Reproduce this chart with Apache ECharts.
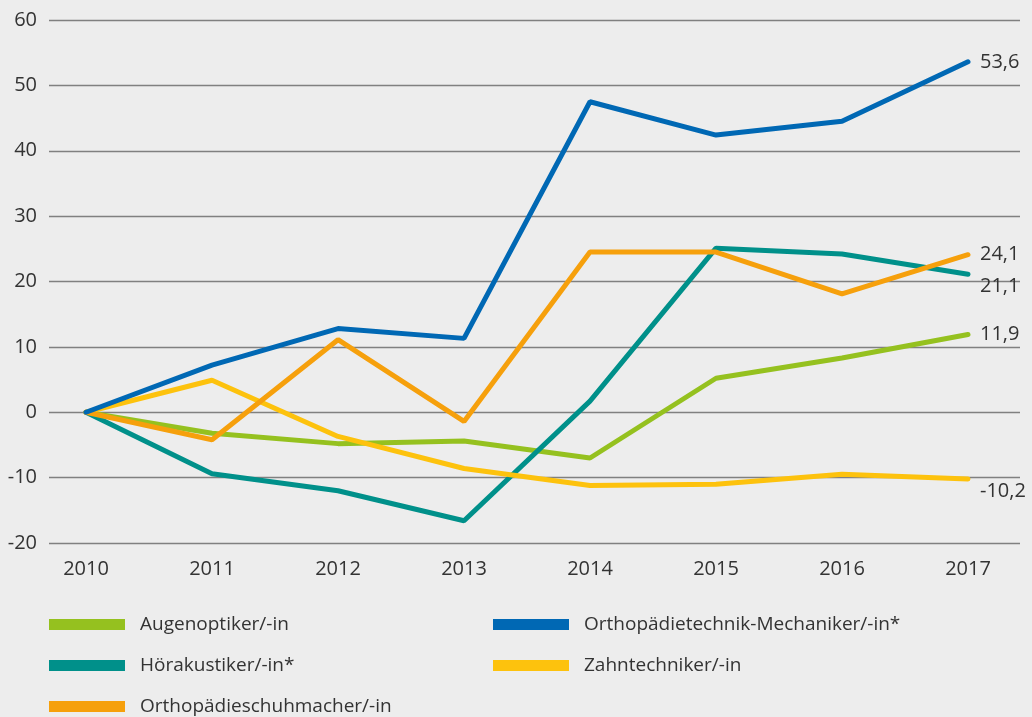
<!DOCTYPE html>
<html>
<head>
<meta charset="utf-8">
<script src="https://cdn.jsdelivr.net/npm/echarts@6/dist/echarts.min.js"></script>
<style>
  html, body { margin: 0; padding: 0; background: #ededed; }
  #chart { width: 1032px; height: 717px; }
</style>
</head>
<body>
<div id="chart"></div>
<script>
const years = ['2010', '2011', '2012', '2013', '2014', '2015', '2016', '2017'];

// Veränderung gegenüber 2010 in %
const augenoptiker = [0, -3.2, -4.8, -4.4, -7.0, 5.2, 8.3, 11.9];
const hoerakustiker = [0, -9.4, -12.0, -16.6, 1.7, 25.1, 24.2, 21.1];
const orthoTechnik = [0, 7.2, 12.8, 11.3, 47.5, 42.4, 44.5, 53.6];
const zahntechniker = [0, 4.9, -3.7, -8.6, -11.2, -11.0, -9.5, -10.2];
const orthoSchuh = [0, -4.2, 11.1, -1.4, 24.5, 24.5, 18.1, 24.1];

const names = {
  augen: 'Augenoptiker/-in',
  hoer: 'Hörakustiker/-in*',
  schuh: 'Orthopädieschuhmacher/-in',
  technik: 'Orthopädietechnik-Mechaniker/-in*',
  zahn: 'Zahntechniker/-in'
};

const textColor = '#333333';
const fontFamily = '"Open Sans", "Noto Sans", sans-serif';

function lineSeries(name, data, color, labelOffset) {
  return {
    name: name,
    type: 'line',
    xAxisIndex: 1,
    yAxisIndex: 1,
    data: data,
    symbol: 'none',
    color: color,
    lineStyle: { width: 5, color: color, cap: 'round' },
    endLabel: {
      show: true,
      distance: 12,
      offset: labelOffset || [0, 0],
      color: textColor,
      fontSize: 20,
      fontFamily: fontFamily,
      formatter: p => String(p.value).replace('.', ',')
    },
    emphasis: { disabled: true },
    animation: false
  };
}

const chart = echarts.init(document.getElementById('chart'));

const legendBase = {
  orient: 'vertical',
  top: 610,
  height: 110,
  icon: 'rect',
  itemWidth: 76,
  itemHeight: 11,
  itemGap: 22,
  selectedMode: false,
  textStyle: { color: textColor, fontSize: 19, fontFamily: fontFamily, padding: [0, 0, 0, 10] }
};

const option = {
  backgroundColor: '#ededed',
  textStyle: { fontFamily: fontFamily },
  grid: [
    { left: 49, right: 12, top: 20, bottom: 174 },
    { left: 86, right: 64, top: 20, bottom: 174 }
  ],
  legend: [
    Object.assign({}, legendBase, { left: 44, data: [names.augen, names.hoer, names.schuh] }),
    Object.assign({}, legendBase, { left: 488, data: [names.technik, names.zahn] })
  ],
  xAxis: [
    { gridIndex: 0, type: 'value', min: 0, max: 1, show: false },
    {
      gridIndex: 1,
      type: 'category',
      boundaryGap: false,
      data: years,
      axisLine: { show: false },
      axisTick: { show: false },
      axisLabel: { color: textColor, fontSize: 20, margin: 16 }
    }
  ],
  yAxis: [
    {
      gridIndex: 0,
      type: 'value',
      min: -20,
      max: 60,
      interval: 10,
      axisLine: { show: false },
      axisTick: { show: false },
      axisLabel: { color: textColor, fontSize: 20, margin: 12 },
      splitLine: { lineStyle: { color: '#808080', width: 1.3 } }
    },
    { gridIndex: 1, type: 'value', min: -20, max: 60, show: false, splitLine: { show: false } }
  ],
  series: [
    lineSeries(names.augen, augenoptiker, '#95c11f'),
    lineSeries(names.hoer, hoerakustiker, '#00908a', [0, 12]),
    lineSeries(names.zahn, zahntechniker, '#fdc20d', [0, 12]),
    lineSeries(names.schuh, orthoSchuh, '#f6a00c'),
    lineSeries(names.technik, orthoTechnik, '#0068b4')
  ]
};

chart.setOption(option);
window.addEventListener('resize', () => chart.resize());
</script>
</body>
</html>
